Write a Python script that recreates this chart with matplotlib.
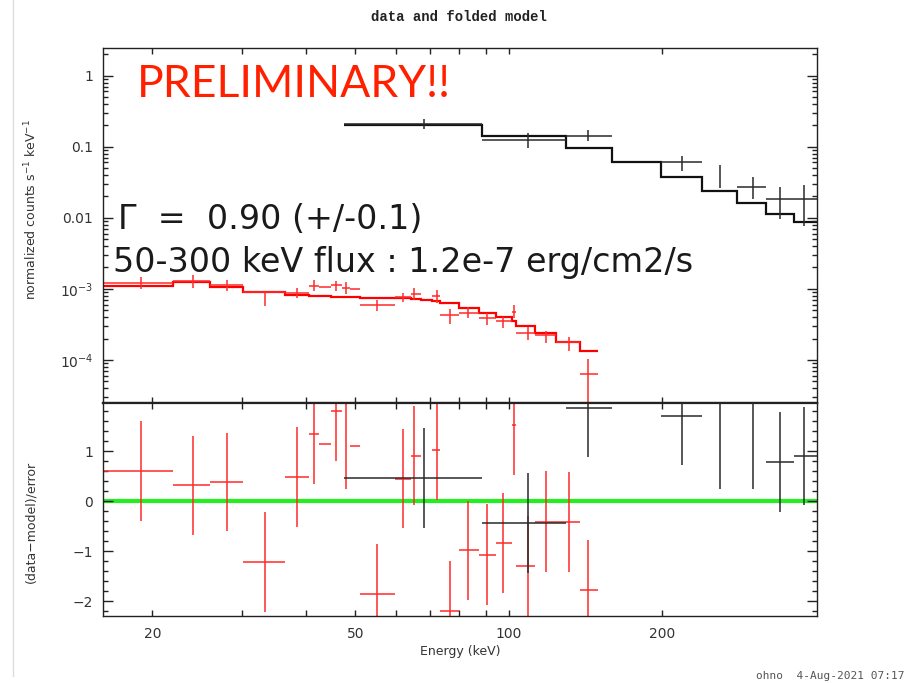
import numpy as np
import matplotlib
matplotlib.use("Agg")
import matplotlib.pyplot as plt
from matplotlib.lines import Line2D
from matplotlib.ticker import FixedLocator, NullFormatter

# red spectrum (low energy instrument): bin centre and edges in keV
red_E = np.array([18.98, 24.07, 28.06, 33.22, 38.48, 41.44, 43.55, 45.89, 47.83, 50.04, 55.23, 62.03,
                  65.19, 72.22, 76.69, 83.3, 90.5, 97.6, 102.5, 108.9, 118.2, 130.9, 143.2])
red_Elo = np.array([15.5, 21.96, 25.95, 30.13, 36.41, 40.57, 42.44, 44.80, 47.08, 48.82, 51.07, 59.83,
                    64.2, 70.7, 73.3, 79.9, 87.4, 94.4, 101.5, 103.5, 112.6, 123.8, 138.0])
red_Ehi = np.array([21.96, 25.95, 30.13, 36.41, 40.57, 42.44, 44.80, 47.08, 48.82, 51.07, 59.83, 64.2,
                    67.3, 73.3, 79.9, 87.4, 94.4, 101.5, 103.5, 112.6, 123.8, 138.0, 149.6])
# counts/s/keV (x1e-3) with lower and upper end of error bar
red_rate = np.array([1.20, 1.30, 1.12, 0.90, 0.87, 1.10, 1.08, 1.12, 1.02, 1.00, 0.59, 0.77,
                     0.86, 0.80, 0.43, 0.465, 0.39, 0.35, 0.48, 0.243, 0.225, 0.178, 0.0635]) * 1e-3
red_rate_lo = np.array([1.00, 1.04, 0.92, 0.57, 0.74, 0.92, 1.08, 0.92, 0.85, 1.00, 0.49, 0.66,
                        0.70, 0.63, 0.32, 0.386, 0.311, 0.279, 0.39, 0.191, 0.175, 0.135, 0.001]) * 1e-3
red_rate_hi = np.array([1.49, 1.57, 1.34, 0.90, 1.04, 1.34, 1.08, 1.29, 1.23, 1.00, 0.70, 0.87,
                        1.02, 0.97, 0.52, 0.552, 0.464, 0.407, 0.60, 0.294, 0.259, 0.213, 0.102]) * 1e-3
red_model_edges = np.array([15.5, 21.96, 25.95, 30.13, 36.41, 40.57, 42.44, 44.80, 47.08, 48.82, 51.07,
                            59.83, 64.2, 67.3, 70.7, 73.3, 79.9, 87.4, 94.4, 101.5, 103.5, 112.6, 123.8,
                            138.0, 149.6])
red_model = np.array([1.11, 1.24, 1.05, 0.90, 0.81, 0.80, 0.79, 0.78, 0.78, 0.76, 0.755, 0.75, 0.73,
                      0.70, 0.67, 0.63, 0.53, 0.465, 0.40, 0.35, 0.30, 0.24, 0.18, 0.132]) * 1e-3
red_res = np.array([0.61, 0.32, 0.39, -1.21, 0.49, 1.34, 1.14, 1.80, 2.25, 1.11, -1.85, 0.45,
                    0.91, 1.02, -2.19, -0.98, -1.07, -0.83, 1.53, -1.30, -0.41, -0.42, -1.77])
red_res_err = np.array([1.0, 0.99, 0.98, 1.0, 1.0, 1.0, 0.0, 1.0, 2.0, 0.0, 1.0, 0.99,
                        0.99, 1.0, 1.0, 0.99, 1.01, 1.0, 1.0, 1.0, 1.01, 1.0, 1.0])

# black spectrum (high energy instrument)
blk_E = np.array([68.2, 109.2, 143.2, 218.9, 259.5, 300.8, 340.3, 379.2])
blk_Elo = np.array([47.6, 88.6, 129.3, 198.8, 259.5, 280.6, 319.4, 363.0])
blk_Ehi = np.array([88.6, 129.3, 159.2, 238.9, 259.5, 319.4, 363.0, 410.0])
blk_rate = np.array([0.212, 0.124, 0.140, 0.061, 0.038, 0.0267, 0.0183, 0.0183])
blk_rate_lo = np.array([0.179, 0.097, 0.119, 0.046, 0.026, 0.0183, 0.0096, 0.0077])
blk_rate_hi = np.array([0.248, 0.157, 0.173, 0.073, 0.056, 0.0374, 0.0267, 0.0292])
blk_model_edges = np.array([47.6, 88.6, 129.3, 159.2, 198.8, 238.9, 280.6, 319.4, 363.0, 410.0])
blk_model = np.array([0.205, 0.14, 0.096, 0.061, 0.0374, 0.0235, 0.016, 0.0114, 0.0086])
blk_res = np.array([0.47, -0.43, 1.87, 1.71, 2.30, 2.30, 0.79, 0.91])
blk_res_err = np.array([1.0, 1.0, 0.98, 0.98, 2.05, 2.05, 1.0, 0.98])

RED = '#ff2a2a'
BLK = '#2a2a2a'

fig = plt.figure(figsize=(9.16, 6.83), dpi=100)
ax1 = fig.add_axes([0.11245, 0.40996, 0.77948, 0.51977])
ax2 = fig.add_axes([0.11245, 0.09809, 0.77948, 0.31187])

# top: folded model + data
for E, lo, hi, r, rlo, rhi, c in [(red_E, red_Elo, red_Ehi, red_rate, red_rate_lo, red_rate_hi, RED),
                                   (blk_E, blk_Elo, blk_Ehi, blk_rate, blk_rate_lo, blk_rate_hi, BLK)]:
    ax1.errorbar(E, r, xerr=[E - lo, hi - E], yerr=[r - rlo, rhi - r], fmt='none',
                 ecolor=c, elinewidth=1.1, capsize=0)
ax1.stairs(red_model, red_model_edges, baseline=None, color='#ff0000', lw=1.6)
ax1.stairs(blk_model, blk_model_edges, baseline=None, color='#111111', lw=1.6)

ax1.set_xscale('log')
ax1.set_yscale('log')
ax1.set_xlim(16.0, 402)
ax1.set_ylim(2.48e-5, 2.45)
ax1.yaxis.set_major_locator(FixedLocator([1e-4, 1e-3, 1e-2, 0.1, 1]))
ax1.set_yticklabels(['10$^{-4}$', '10$^{-3}$', '0.01', '0.1', '1'])
ax1.yaxis.set_minor_locator(FixedLocator([m * 10.0 ** d for d in range(-5, 1) for m in range(2, 10)]))
ax1.yaxis.set_minor_formatter(NullFormatter())

# bottom: residuals
ax2.axhline(0, color='#22ee22', lw=3, zorder=1)
ax2.errorbar(red_E, red_res, xerr=[red_E - red_Elo, red_Ehi - red_E], yerr=red_res_err,
             fmt='none', ecolor=RED, elinewidth=1.1, capsize=0, zorder=2)
ax2.errorbar(blk_E, blk_res, xerr=[blk_E - blk_Elo, blk_Ehi - blk_E], yerr=blk_res_err,
             fmt='none', ecolor=BLK, elinewidth=1.1, capsize=0, zorder=3)
ax2.set_xscale('log')
ax2.set_xlim(16.0, 402)
ax2.set_ylim(-2.29, 1.96)
ax2.yaxis.set_major_locator(FixedLocator([-2, -1, 0, 1]))
ax2.set_yticklabels(['\u22122', '\u22121', '0', '1'])
ax2.yaxis.set_minor_locator(FixedLocator(np.arange(-2.2, 2.0, 0.2)))

for ax in (ax1, ax2):
    ax.xaxis.set_major_locator(FixedLocator([20, 50, 100, 200]))
    ax.xaxis.set_minor_locator(FixedLocator([30, 40, 60, 70, 80, 90]))
    ax.xaxis.set_minor_formatter(NullFormatter())
    ax.tick_params(which='both', direction='in', top=True, right=True, color='#222222',
                   labelsize=10, labelcolor='#333333')
    ax.tick_params(axis='y', which='major', length=7, width=1, pad=7)
    ax.tick_params(axis='y', which='minor', length=3.5, width=1)
    ax.tick_params(axis='x', which='major', length=4, width=1, pad=8)
    ax.tick_params(axis='x', which='minor', length=4, width=1)
    for s in ax.spines.values():
        s.set_color('#222222')
        s.set_linewidth(1.0)

ax1.set_xticklabels([])
ax2.set_xticklabels(['20', '50', '100', '200'])
ax1.spines['bottom'].set_linewidth(1.6)
ax2.spines['top'].set_linewidth(1.6)

fig.text(459 / 916, 1 - 17 / 683, 'data and folded model', ha='center', va='center',
         family='Liberation Mono', fontweight='bold', fontsize=10, color='#222222')
fig.text(31 / 916, 1 - 210 / 683, 'normalized counts s$^{-1}$ keV$^{-1}$', rotation=90,
         ha='center', va='center', fontsize=9, color='#333333')
fig.text(31 / 916, 1 - 522 / 683, '(data\u2212model)/error', rotation=90,
         ha='center', va='center', fontsize=9, color='#333333')
fig.text(460 / 916, 1 - 651 / 683, 'Energy (keV)', ha='center', va='center',
         fontsize=9, color='#333333')
fig.text(905 / 916, 1 - 676 / 683, 'ohno  4-Aug-2021 07:17', ha='right', va='center',
         family='DejaVu Sans Mono', fontsize=8, color='#555555')

# slide annotations
fig.text(137 / 916, 1 - 97 / 683, 'PRELIMINARY!!', ha='left', va='baseline',
         family='Lato', fontsize=32, color='#ff2000')
fig.text(118 / 916, 1 - 229 / 683, '\u0393  =  0.90 (+/-0.1)', ha='left', va='baseline',
         family='DejaVu Sans', fontsize=24, color='#1a1a1a')
fig.text(113 / 916, 1 - 272 / 683, '50-300 keV flux : 1.2e-7 erg/cm2/s', ha='left', va='baseline',
         family='DejaVu Sans', fontsize=24, color='#1a1a1a')

fig.add_artist(Line2D([13 / 916, 13 / 916], [0.01, 1.0], transform=fig.transFigure,
                      color='#dddddd', lw=1))

fig.savefig('out.png', dpi=100)
